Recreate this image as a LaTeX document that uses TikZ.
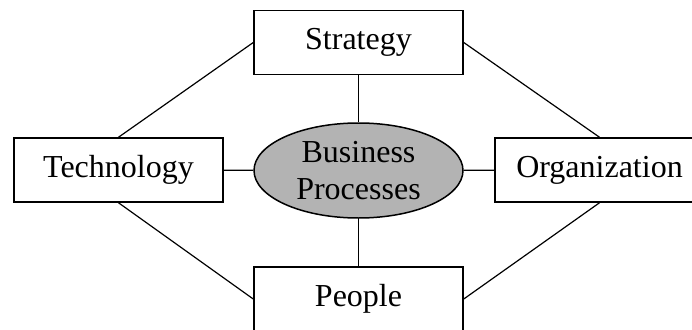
\documentclass[tikz,border=0pt]{standalone}
\usepackage{fontspec}
\setmainfont{Liberation Serif}
\usetikzlibrary{shapes.geometric,positioning}
\definecolor{process}{RGB}{179,179,179}
\tikzstyle{box}=[rectangle, draw, line width=1.5pt, minimum width=209pt, minimum height=64pt, inner sep=0pt, font=\fontsize{32}{37}\selectfont]
\tikzstyle{core}=[ellipse, draw, fill=process, line width=1.5pt, minimum width=209pt, minimum height=95pt, inner sep=0pt, align=center, font=\fontsize{32}{37}\selectfont]
\tikzstyle{link}=[line width=1.2pt]
\tikzset{y=-1pt}
\tikzset{x=1pt}
\begin{document}
\begin{tikzpicture}
  \useasboundingbox (0,0) rectangle (692,329);
  \draw (358.5,170.5) node[core] (BP) {Business\\Processes};
  \draw (358.5,42.5) node[box] (S) {Strategy};
  \draw (118.5,170) node[box] (T) {Technology};
  \draw (599.5,170) node[box] (O) {Organization};
  \draw (358.5,299) node[box] (P) {People};

  %% outer ring
  \draw[link] (T.north) -- (S.west);
  \draw[link] (S.east) -- (O.north);
  \draw[link] (T.south) -- (P.west);
  \draw[link] (P.east) -- (O.south);

  %% spokes
  \draw[link] (S) -- (BP);
  \draw[link] (BP) -- (P);
  \draw[link] (T) -- (BP);
  \draw[link] (BP) -- (O);
\end{tikzpicture}
\end{document}
